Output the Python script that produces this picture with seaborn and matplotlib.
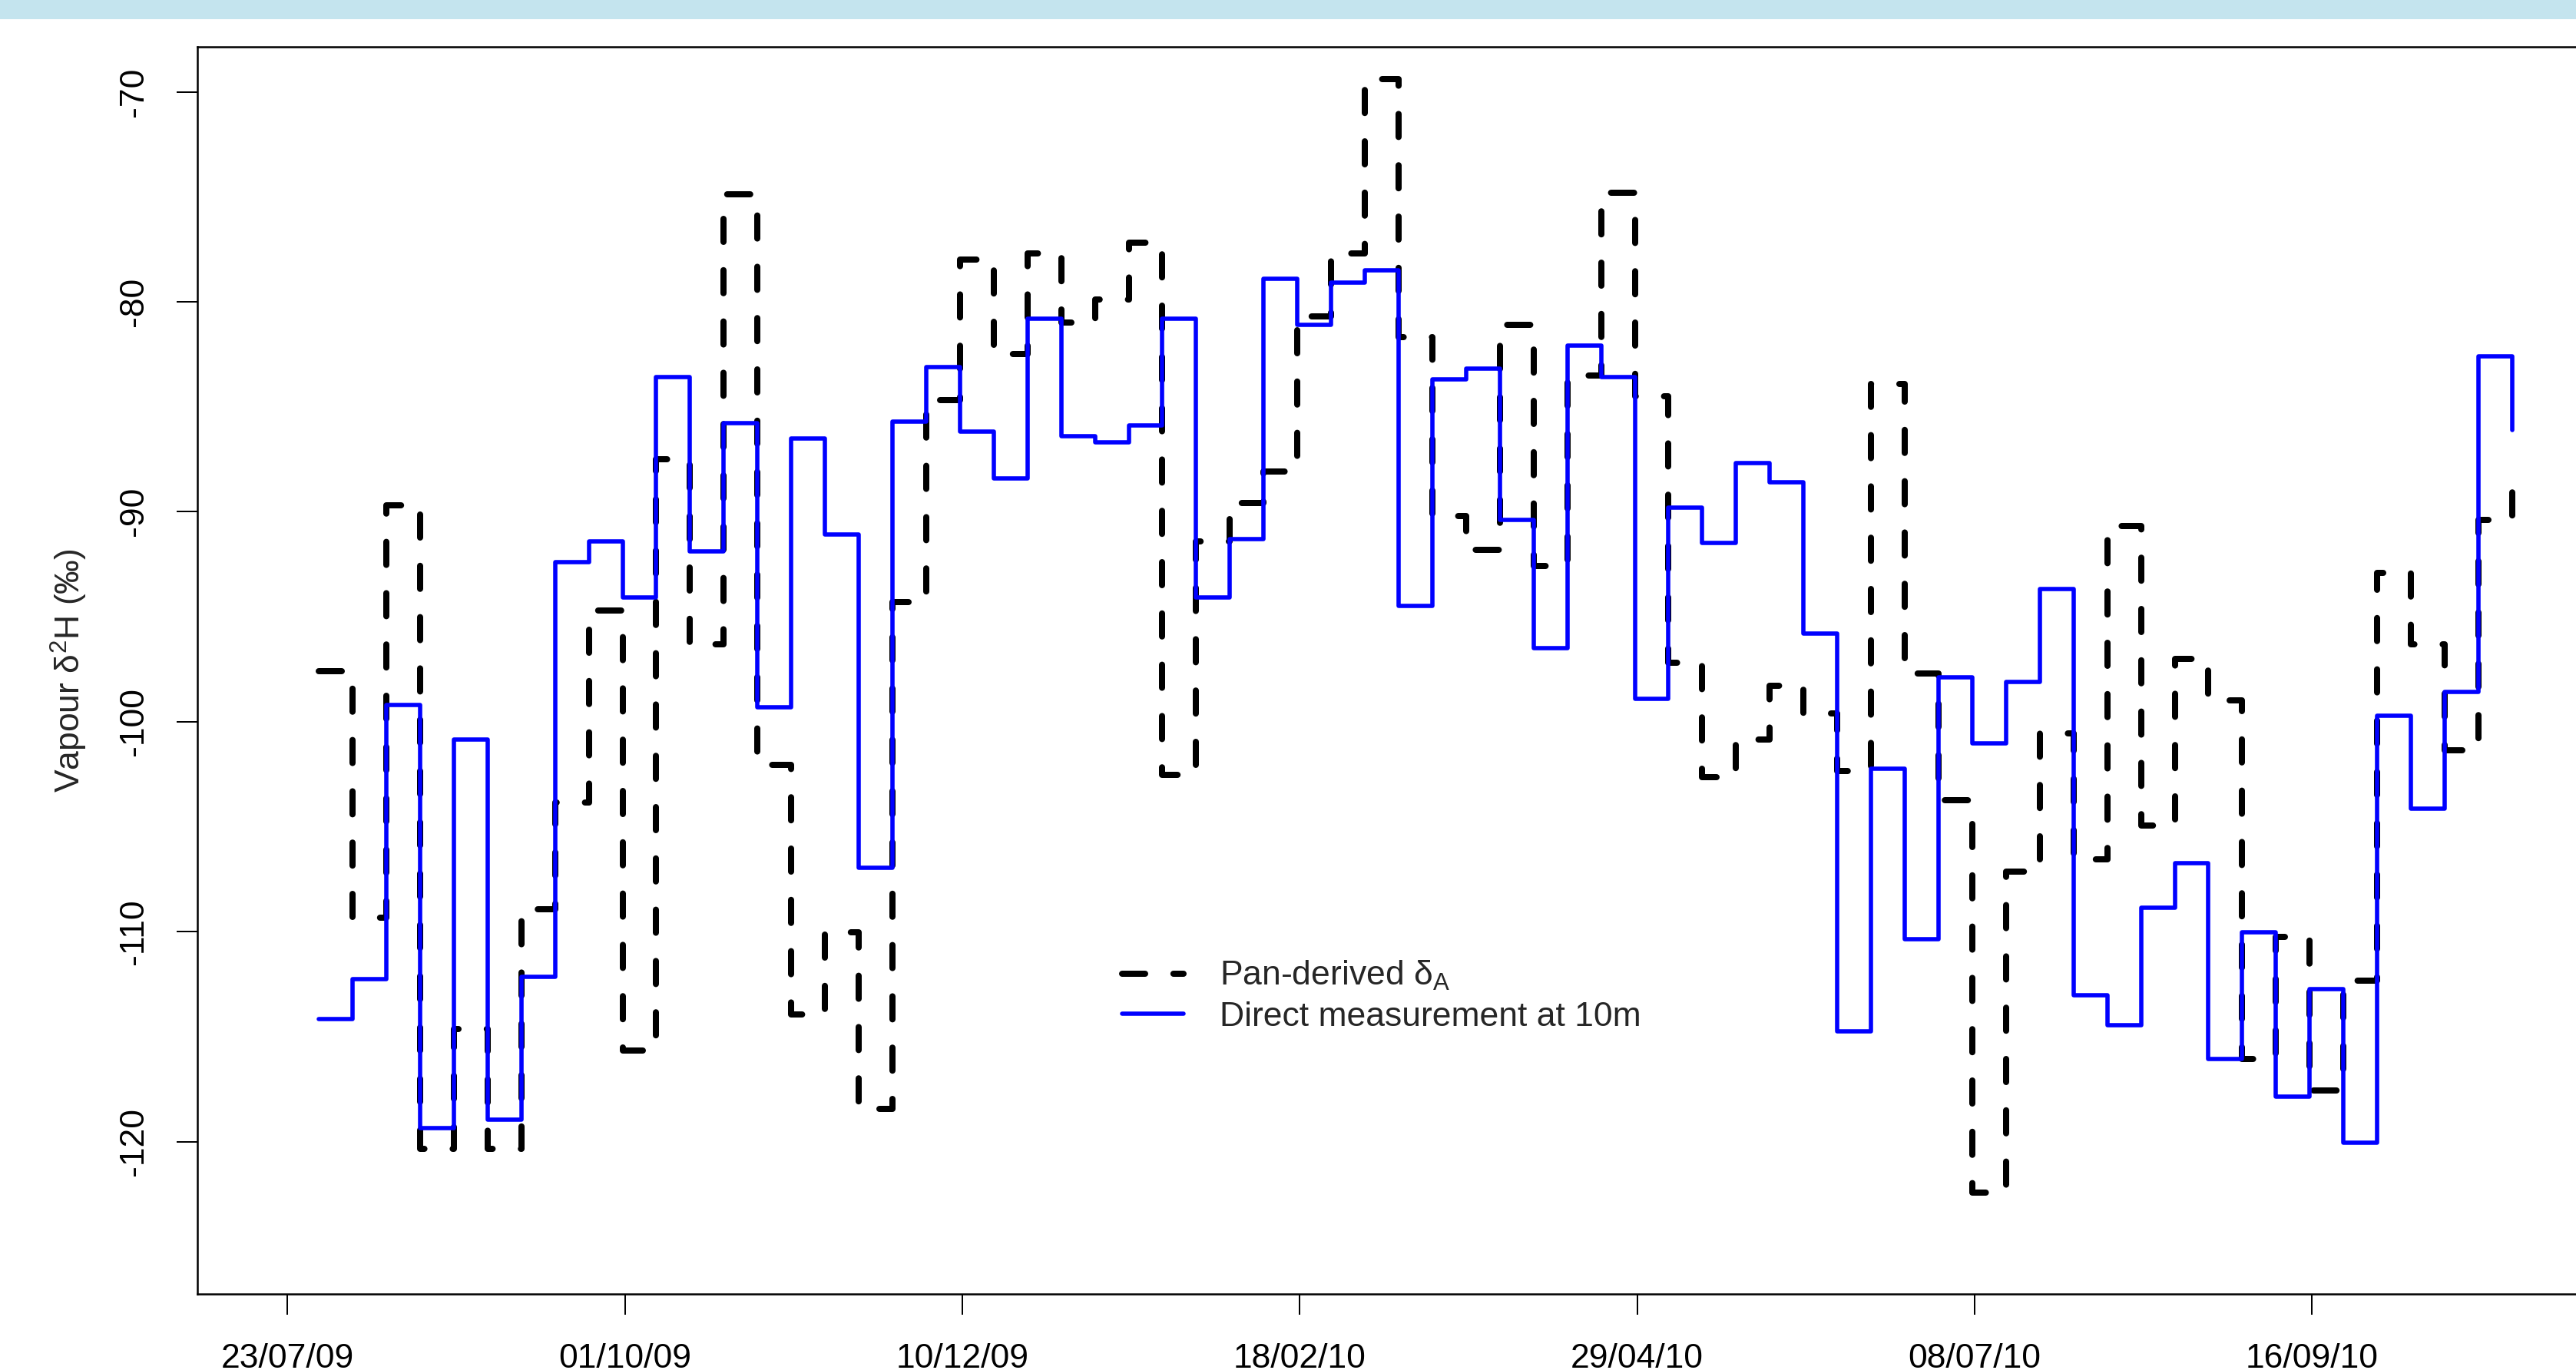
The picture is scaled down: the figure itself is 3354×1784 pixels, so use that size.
import matplotlib
matplotlib.use("Agg")
import matplotlib.pyplot as plt
from matplotlib.patches import Rectangle
import pandas as pd
import seaborn as sns

# Weekly sampling: first sample and number of samples
first_sample = "2009-07-29 12:00"
n_samples = 66

# Vapour d2H (permil), pan-derived estimate
pan_derived = [
    -97.6, -109.35, -89.7, -120.35, -114.65, -120.35, -108.95, -103.85, -94.7, -115.65,
    -87.5, -96.3, -74.9, -102.05, -113.95, -110.05, -118.45, -94.3, -84.7, -78.0,
    -82.5, -77.7, -81.0, -79.9, -77.2, -102.55, -91.4, -89.6, -88.1, -80.7,
    -77.7, -69.4, -81.7, -90.2, -91.8, -81.1, -92.6, -83.5, -74.8, -84.5,
    -97.2, -102.65, -100.85, -98.3, -99.6, -102.35, -83.9, -97.7, -103.75, -122.45,
    -107.15, -100.55, -106.55, -90.7, -104.95, -97.0, -99.0, -116.05, -110.25, -117.55,
    -112.35, -92.9, -96.3, -101.35, -90.4, -88.5,
]

# Vapour d2H (permil), direct measurement at 10 m
direct_10m = [
    -114.15, -112.25, -99.2, -119.35, -100.85, -118.95, -112.15, -92.4, -91.4, -94.1,
    -83.6, -91.9, -85.8, -99.3, -86.5, -91.1, -106.95, -85.7, -83.1, -86.2,
    -88.4, -80.8, -86.4, -86.7, -85.9, -80.8, -94.1, -91.3, -78.9, -81.1,
    -79.1, -78.5, -94.5, -83.7, -83.2, -90.4, -96.5, -82.1, -83.6, -98.9,
    -89.8, -91.5, -87.7, -88.6, -95.8, -114.75, -102.25, -110.35, -97.9, -101.05,
    -98.1, -93.7, -113.05, -114.45, -108.85, -106.75, -116.05, -110.05, -117.85, -112.75,
    -120.05, -99.7, -104.15, -98.6, -82.6, -86.1,
]

tick_dates = ["2009-07-23", "2009-10-01", "2009-12-10", "2010-02-18",
              "2010-04-29", "2010-07-08", "2010-09-16"]
tick_labels = ["23/07/09", "01/10/09", "10/12/09", "18/02/10",
               "29/04/10", "08/07/10", "16/09/10"]
y_ticks = [-70, -80, -90, -100, -110, -120]

sns.set_style("ticks")
plt.rcParams["font.family"] = ["Liberation Sans", "DejaVu Sans"]
plt.rcParams["mathtext.fontset"] = "custom"
plt.rcParams["mathtext.rm"] = "Liberation Sans"
plt.rcParams["mathtext.it"] = "Liberation Sans:italic"
plt.rcParams["mathtext.bf"] = "Liberation Sans:bold"
plt.rcParams["axes.unicode_minus"] = False

W, H = 3355, 1784
fig = plt.figure(figsize=(W / 100, H / 100), dpi=100)
fig.patch.set_facecolor("white")

# Light banner along the top edge
fig.patches.append(Rectangle((0, 1 - 25 / H), 1, 25 / H, transform=fig.transFigure,
                             facecolor="#c4e4ee", edgecolor="none", zorder=0))

ax = fig.add_axes([257 / W, 1 - 1685 / H, (3370 - 257) / W, (1685 - 61) / H])

df = pd.DataFrame({
    "date": pd.date_range(first_sample, periods=n_samples, freq="7D"),
    "pan": pan_derived,
    "direct": direct_10m,
})

sns.lineplot(data=df, x="date", y="pan", ax=ax, color="black", lw=5.76,
             linestyle=(0, (3.75, 4.6)), drawstyle="steps-post",
             dash_capstyle="round", label=r"Pan-derived $\mathrm{\delta_A}$", zorder=2)
sns.lineplot(data=df, x="date", y="direct", ax=ax, color="#0000ff", lw=4.0,
             drawstyle="steps-post", label="Direct measurement at 10m", zorder=3)

ref = pd.Timestamp("2009-07-23")
ax.set_xlim(ref - pd.Timedelta(days=18.7), ref + pd.Timedelta(days=477.3))
ax.set_ylim(-127.26, -67.86)

ax.set_xticks(pd.to_datetime(tick_dates))
ax.set_xticklabels(tick_labels)
ax.set_yticks(y_ticks)
ax.set_yticklabels([str(v) for v in y_ticks], rotation=90, va="center")

ax.tick_params(axis="both", direction="out", length=19.4, width=1.44,
               labelsize=32, color="black", labelcolor="black",
               bottom=True, left=True, top=False, right=False)
ax.tick_params(axis="x", pad=27)
ax.tick_params(axis="y", pad=25)
for s in ax.spines.values():
    s.set_linewidth(1.8)
    s.set_color("black")

ax.set_xlabel("")
ax.set_ylabel(r"Vapour $\mathrm{\delta^{2}H}$ (‰)", fontsize=32)
ax.yaxis.set_label_coords(-0.0453, 0.5)

ax.legend(loc="center left", bbox_to_anchor=(0.3868, 0.2389), frameon=False,
          fontsize=32, handlelength=1.8, handletextpad=1.06, labelspacing=0.26,
          borderpad=0, borderaxespad=0)

fig.savefig("out.png", dpi=100)
